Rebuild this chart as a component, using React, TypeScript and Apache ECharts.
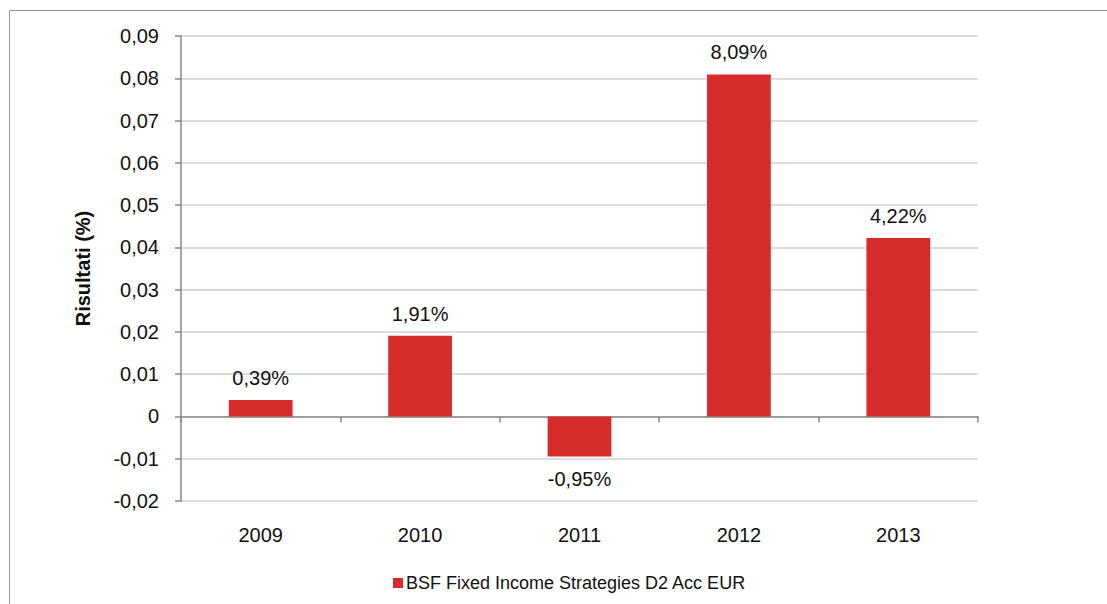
import React, { useEffect, useRef } from "react";
import * as echarts from "echarts";

const categories = ["2009", "2010", "2011", "2012", "2013"];
const values = [0.0039, 0.0191, -0.0095, 0.0809, 0.0422];
const seriesName = "BSF Fixed Income Strategies D2 Acc EUR";
const yAxisTitle = "Risultati (%)";

const FONT = "'Liberation Sans', Arial, sans-serif";

export default function App() {
  const ref = useRef<HTMLDivElement>(null);
  useEffect(() => {
    if (!ref.current) return;
    const chart = echarts.init(ref.current, null, { renderer: "svg" });
    chart.setOption({
      animation: false,
      backgroundColor: "#fff",
      textStyle: { fontFamily: FONT },
      graphic: [
        {
          type: "rect",
          shape: { x: 9.5, y: 10.5, width: 1200, height: 700 },
          style: { fill: "none", stroke: "#999", lineWidth: 1 },
          silent: true,
        },
      ],
      grid: {
        left: 181,
        right: 129,
        top: 36,
        bottom: 103,
        containLabel: false,
        outerBoundsMode: "none",
      },
      legend: {
        data: [seriesName],
        left: 388,
        top: 569,
        itemWidth: 10,
        itemHeight: 10,
        itemGap: 4,
        icon: "rect",
        textStyle: { fontFamily: FONT, fontSize: 18, color: "#111", padding: [0, 0, 0, -2] },
      },
      xAxis: {
        type: "category",
        data: categories,
        axisLine: { onZero: true, lineStyle: { color: "#888", width: 1.5 } },
        axisTick: { show: true, length: 6, lineStyle: { color: "#888", width: 1.5 } },
        axisLabel: { margin: 24, fontSize: 20, color: "#111", fontFamily: FONT },
        splitLine: { show: false },
      },
      yAxis: {
        type: "value",
        min: -0.02,
        max: 0.09,
        interval: 0.01,
        name: yAxisTitle,
        nameLocation: "middle",
        nameGap: 88,
        nameTextStyle: { fontSize: 20, fontWeight: "bold", color: "#111", fontFamily: FONT },
        axisLine: { show: true, lineStyle: { color: "#888", width: 1.5 } },
        axisTick: { show: true, length: 6, lineStyle: { color: "#888", width: 1.5 } },
        axisLabel: {
          fontSize: 20,
          color: "#111",
          margin: 22,
          fontFamily: FONT,
          formatter: (v: number) => String(Math.round(v * 100) / 100).replace(".", ","),
        },
        splitLine: { show: true, lineStyle: { color: "#d0d0d0", width: 1.5 } },
      },
      series: [
        {
          name: seriesName,
          type: "bar",
          barWidth: "40%",
          itemStyle: { color: "#D52B2A" },
          data: values.map((v) => ({
            value: v,
            label: { position: v < 0 ? "bottom" : "top" },
          })),
          label: {
            show: true,
            distance: 12,
            fontSize: 20,
            color: "#111",
            fontFamily: FONT,
            formatter: (p: any) => (p.value * 100).toFixed(2).replace(".", ",") + "%",
          },
        },
      ],
    });
    return () => chart.dispose();
  }, []);
  return (
    <div
      ref={ref}
      style={{ position: "fixed", left: 0, top: 0, width: 1107, height: 604 }}
    />
  );
}
